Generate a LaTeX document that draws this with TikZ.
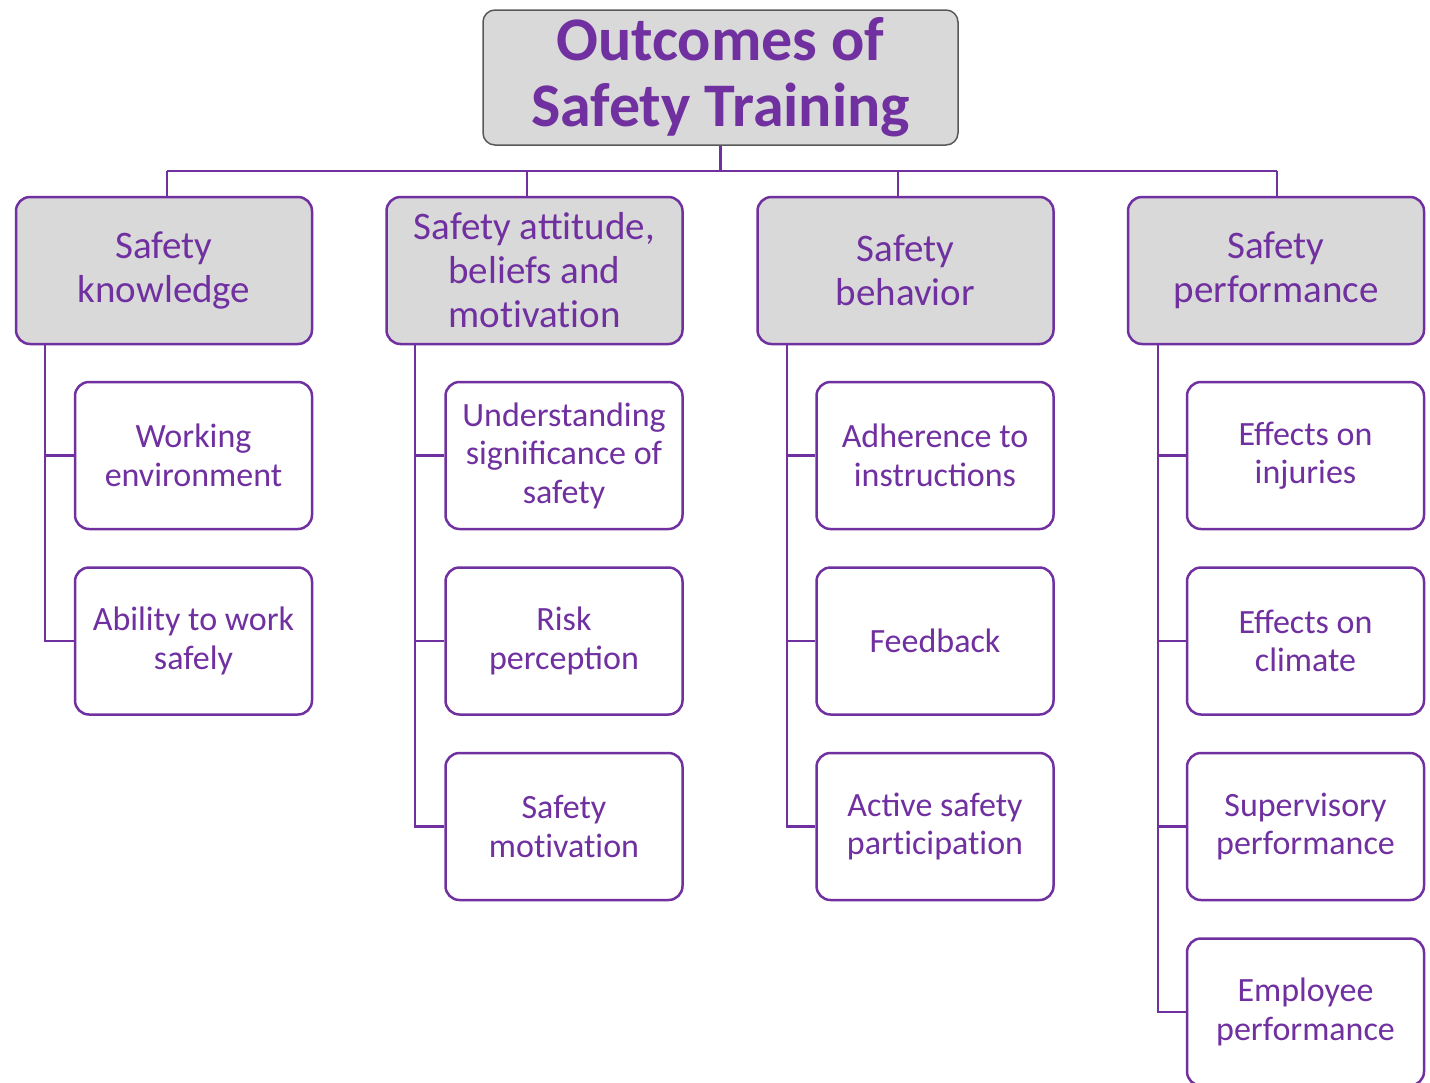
\documentclass[tikz,border=0pt]{standalone}
\usepackage{fontspec}
\setmainfont{Carlito}
\newcommand\nolig{\kern0pt }
\definecolor{purp}{HTML}{7030A0}
\definecolor{boxgray}{HTML}{D9D9D9}
\definecolor{edgegray}{HTML}{595959}
\begin{document}
\begin{tikzpicture}[x=1pt,y=-1pt,
  titlebox/.style={draw=edgegray, fill=boxgray, line width=1.5pt, rounded corners=12pt,
    minimum width=475pt, minimum height=135pt, text=purp, align=center,
    font=\fontsize{62}{66}\selectfont\bfseries, inner sep=0pt},
  parentbox/.style={draw=purp, fill=boxgray, line width=2.5pt, rounded corners=14pt,
    minimum width=296pt, minimum height=147pt, text=purp, align=center,
    font=\fontsize{39}{44}\selectfont, inner sep=0pt},
  childbox/.style={draw=purp, fill=white, line width=2.5pt, rounded corners=14pt,
    minimum width=237pt, minimum height=147pt, text=purp, align=center,
    font=\fontsize{34}{38.5}\selectfont, inner sep=0pt},
  link/.style={draw=purp, line width=2.5pt}]
\useasboundingbox (0,0) rectangle (1430,1082);

\node[titlebox] (T) at (720.5,77.5) {Outcomes of\\Safety Training};

\node[parentbox] (P1) at (164,270.5) {Safety\\knowledge};
\node[parentbox] (P2) at (534.5,270.5) {Safety att\nolig it\nolig ude,\\beliefs and\\mot\nolig ivat\nolig ion};
\node[parentbox] (P3) at (905.5,270.5) {Safety\\behavior};
\node[parentbox] (P4) at (1276,270.5) {Safety\\performance};

\node[childbox] (C11) at (193.5,455.5) {Working\\environment};
\node[childbox] (C12) at (193.5,641) {Ability to work\\safely};

\node[childbox] (C21) at (564,455.5) {Understanding\\significance of\\safety};
\node[childbox] (C22) at (564,641) {Risk\\perception};
\node[childbox] (C23) at (564,826.5) {Safety\\mot\nolig ivat\nolig ion};

\node[childbox] (C31) at (935,455.5) {Adherence to\\instructions};
\node[childbox] (C32) at (935,641) {Feedback};
\node[childbox] (C33) at (935,826.5) {Active safety\\part\nolig icipat\nolig ion};

\node[childbox] (C41) at (1305.5,455.5) {Effects on\\injuries};
\node[childbox] (C42) at (1305.5,641) {Effects on\\climate};
\node[childbox] (C43) at (1305.5,826.5) {Supervisory\\performance};
\node[childbox] (C44) at (1305.5,1012) {Employee\\performance};

% top bus
\coordinate (b1) at (167,171);
\coordinate (b2) at (527,171);
\coordinate (b3) at (898,171);
\coordinate (b4) at (1277,171);
\draw[link] (T.south) -- (T.south |- b1);
\draw[link] (b1) -- (b4);
\draw[link] (b1) -- (b1 |- P1.north);
\draw[link] (b2) -- (b2 |- P2.north);
\draw[link] (b3) -- (b3 |- P3.north);
\draw[link] (b4) -- (b4 |- P4.north);

% spines
\coordinate (s1) at (45,0);
\coordinate (s2) at (415,0);
\coordinate (s3) at (787,0);
\coordinate (s4) at (1158,0);

\draw[link] (s1 |- P1.south) |- (C12.west);
\draw[link] (s1 |- C11.west) -- (C11.west);

\draw[link] (s2 |- P2.south) |- (C23.west);
\draw[link] (s2 |- C21.west) -- (C21.west);
\draw[link] (s2 |- C22.west) -- (C22.west);

\draw[link] (s3 |- P3.south) |- (C33.west);
\draw[link] (s3 |- C31.west) -- (C31.west);
\draw[link] (s3 |- C32.west) -- (C32.west);

\draw[link] (s4 |- P4.south) |- (C44.west);
\draw[link] (s4 |- C41.west) -- (C41.west);
\draw[link] (s4 |- C42.west) -- (C42.west);
\draw[link] (s4 |- C43.west) -- (C43.west);
\end{tikzpicture}
\end{document}
